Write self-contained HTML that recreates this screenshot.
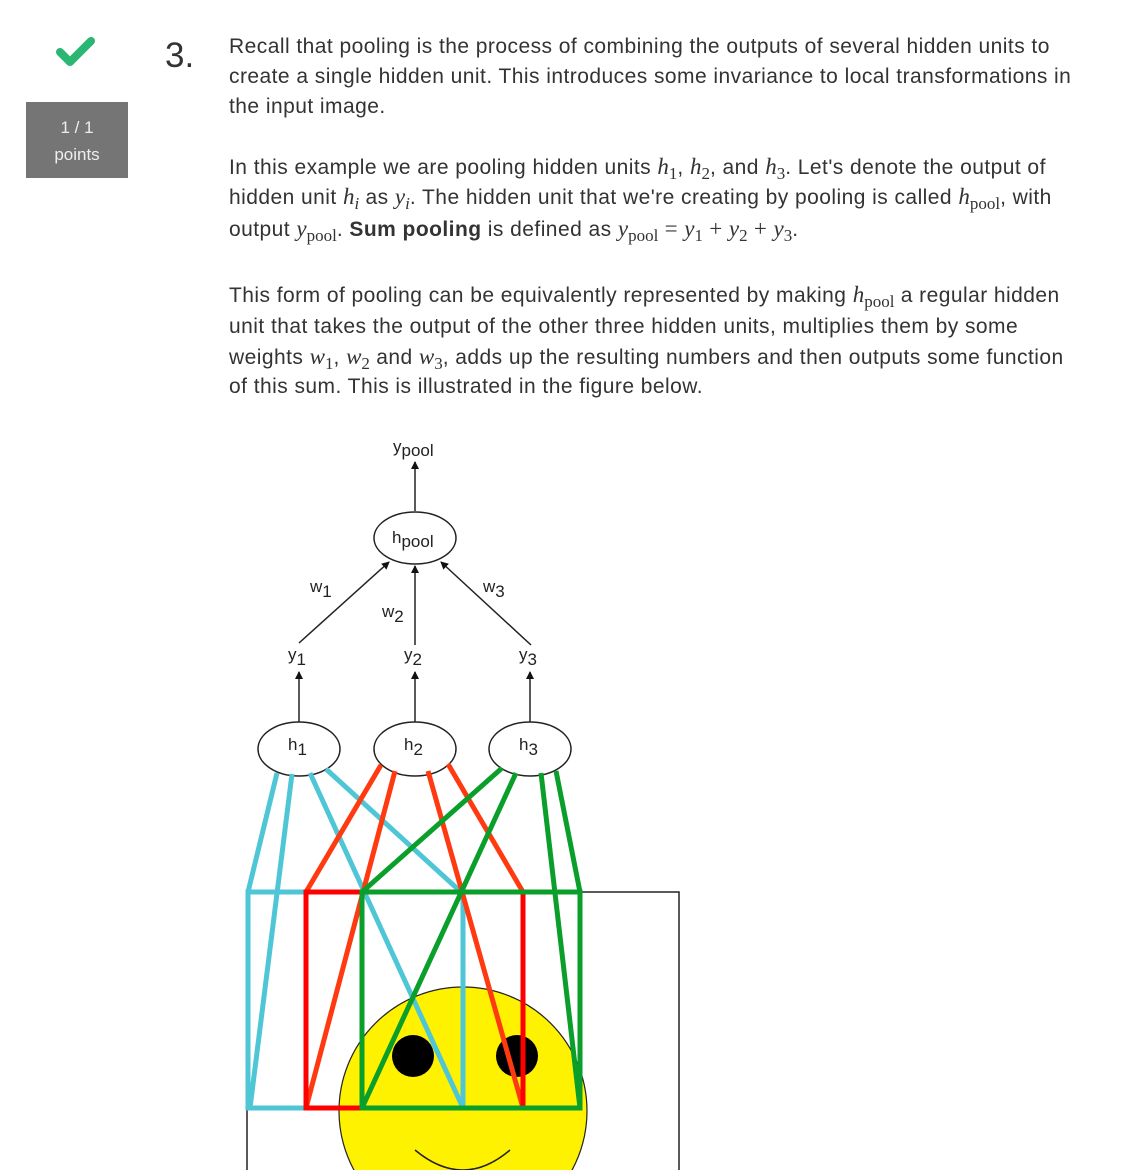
<!DOCTYPE html>
<html><head><meta charset="utf-8">
<style>
html,body{margin:0;width:1130px;height:1170px;overflow:hidden}
body{background:#fff;font-family:"Liberation Sans",sans-serif;color:#333;position:relative}
.ln{position:absolute;left:229px;font-size:21px;letter-spacing:0.45px;white-space:nowrap;line-height:24px}
.m{font-family:"Liberation Serif",serif;font-style:italic;font-size:23px;letter-spacing:0}
.s{font-family:"Liberation Serif",serif;font-style:normal;font-size:17px;vertical-align:-5px;letter-spacing:0}
.r{font-family:"Liberation Serif",serif;font-style:normal;font-size:23px}
</style></head><body>
<svg style="position:absolute;left:56px;top:36px" width="40" height="32"><path d="M4 16 L14 26 L35 5" stroke="#2bb673" stroke-width="8" fill="none" stroke-linecap="round" stroke-linejoin="round"/></svg>
<div style="position:absolute;left:26px;top:102px;width:102px;height:76px;background:#757575;color:#eee;font-size:17px;text-align:center;line-height:27px;padding-top:12px;box-sizing:border-box">1 / 1<br>points</div>
<div style="position:absolute;left:165px;top:36px;font-size:35px;color:#333">3.</div>
<div>
<div class="ln" style="top:35px">Recall that pooling is the process of combining the outputs of several hidden units to</div>
<div class="ln" style="top:65px">create a single hidden unit. This introduces some invariance to local transformations in</div>
<div class="ln" style="top:95px">the input image.</div>
<div class="ln" style="top:155px">In this example we are pooling hidden units <span class="m">h</span><span class="s">1</span>, <span class="m">h</span><span class="s">2</span>, and <span class="m">h</span><span class="s">3</span>. Let's denote the output of</div>
<div class="ln" style="top:185px">hidden unit <span class="m">h<span class="s" style="font-style:italic">i</span></span> as <span class="m">y<span class="s" style="font-style:italic">i</span></span>. The hidden unit that we're creating by pooling is called <span class="m">h</span><span class="s">pool</span>, with</div>
<div class="ln" style="top:217px">output <span class="m">y</span><span class="s">pool</span>. <b>Sum pooling</b> is defined as <span class="m">y</span><span class="s">pool</span> <span class="r">= </span><span class="m">y</span><span class="s">1</span> <span class="r">+ </span><span class="m">y</span><span class="s">2</span> <span class="r">+ </span><span class="m">y</span><span class="s">3</span>.</div>
<div class="ln" style="top:283px">This form of pooling can be equivalently represented by making <span class="m">h</span><span class="s">pool</span> a regular hidden</div>
<div class="ln" style="top:315px">unit that takes the output of the other three hidden units, multiplies them by some</div>
<div class="ln" style="top:345px">weights <span class="m">w</span><span class="s">1</span>, <span class="m">w</span><span class="s">2</span> and <span class="m">w</span><span class="s">3</span>, adds up the resulting numbers and then outputs some function</div>
<div class="ln" style="top:375px">of this sum. This is illustrated in the figure below.</div>
</div>
<svg style="position:absolute;left:0;top:0" width="1130" height="1170">
<defs><marker id="ar" markerWidth="8" markerHeight="8" refX="7" refY="4" orient="auto" markerUnits="userSpaceOnUse"><path d="M0 0 L8 4 L0 8Z" fill="#111"/></marker></defs>
<g font-family="Liberation Sans,sans-serif" fill="#222" font-size="17">
<text x="393" y="452">y<tspan font-size="17" dy="4">pool</tspan></text>
<text x="392" y="543">h<tspan dy="4">pool</tspan></text>
<text x="310" y="592">w<tspan dy="5">1</tspan></text>
<text x="382" y="617">w<tspan dy="5">2</tspan></text>
<text x="483" y="592">w<tspan dy="5">3</tspan></text>
<text x="288" y="660">y<tspan dy="5">1</tspan></text>
<text x="404" y="660">y<tspan dy="5">2</tspan></text>
<text x="519" y="660">y<tspan dy="5">3</tspan></text>
<text x="288" y="750">h<tspan dy="5">1</tspan></text>
<text x="404" y="750">h<tspan dy="5">2</tspan></text>
<text x="519" y="750">h<tspan dy="5">3</tspan></text>
</g>
<g stroke="#222" stroke-width="1.5" fill="none">
<line x1="415" y1="511" x2="415" y2="462" marker-end="url(#ar)"/>
<ellipse cx="415" cy="538" rx="41" ry="26"/>
<line x1="299" y1="643" x2="389" y2="562" marker-end="url(#ar)"/>
<line x1="415" y1="645" x2="415" y2="566" marker-end="url(#ar)"/>
<line x1="531" y1="645" x2="441" y2="562" marker-end="url(#ar)"/>
<line x1="299" y1="722" x2="299" y2="672" marker-end="url(#ar)"/>
<line x1="415" y1="722" x2="415" y2="672" marker-end="url(#ar)"/>
<line x1="530" y1="722" x2="530" y2="672" marker-end="url(#ar)"/>
<ellipse cx="299" cy="749" rx="41" ry="27"/>
<ellipse cx="415" cy="749" rx="41" ry="27"/>
<ellipse cx="530" cy="749" rx="41" ry="27"/>
<polyline points="247,1170 247,892 679,892 679,1170"/>
</g>
<g>
<circle cx="463" cy="1111" r="124" fill="#fff200" stroke="#222" stroke-width="1.2"/>
<circle cx="413" cy="1056" r="21" fill="#000"/>
<circle cx="517" cy="1056" r="21" fill="#000"/>
<path d="M415 1150 Q463 1190 510 1150" stroke="#222" stroke-width="1.5" fill="none"/>
</g>
<g stroke="#4fc6d6" stroke-width="5" fill="none">
<polyline points="306,892 248,892 248,1108 306,1108"/>
<line x1="277" y1="773" x2="248" y2="892"/>
<line x1="292" y1="774" x2="250" y2="1108"/>
<line x1="310" y1="773" x2="463" y2="1108"/>
<line x1="326" y1="769" x2="461" y2="892"/>
<line x1="463" y1="892" x2="463" y2="1108"/>
</g>
<g stroke="#ff3a10" stroke-width="5" fill="none">
<line x1="381" y1="765" x2="306" y2="892"/>
<line x1="395" y1="771" x2="306" y2="1108"/>
<line x1="428" y1="771" x2="523" y2="1108"/>
<line x1="448" y1="764" x2="523" y2="892"/>
</g>
<g stroke="#ff0000" stroke-width="5" fill="none">
<polyline points="362,892 306,892 306,1108 362,1108"/>
<line x1="523" y1="892" x2="523" y2="1108"/>
</g>
<g stroke="#0a9e2a" stroke-width="5" fill="none">
<rect x="362" y="892" width="218" height="216"/>
<line x1="502" y1="768" x2="362" y2="892"/>
<line x1="516" y1="773" x2="362" y2="1108"/>
<line x1="541" y1="773" x2="580" y2="1108"/>
<line x1="556" y1="771" x2="580" y2="892"/>
</g>
</svg>
</body></html>
